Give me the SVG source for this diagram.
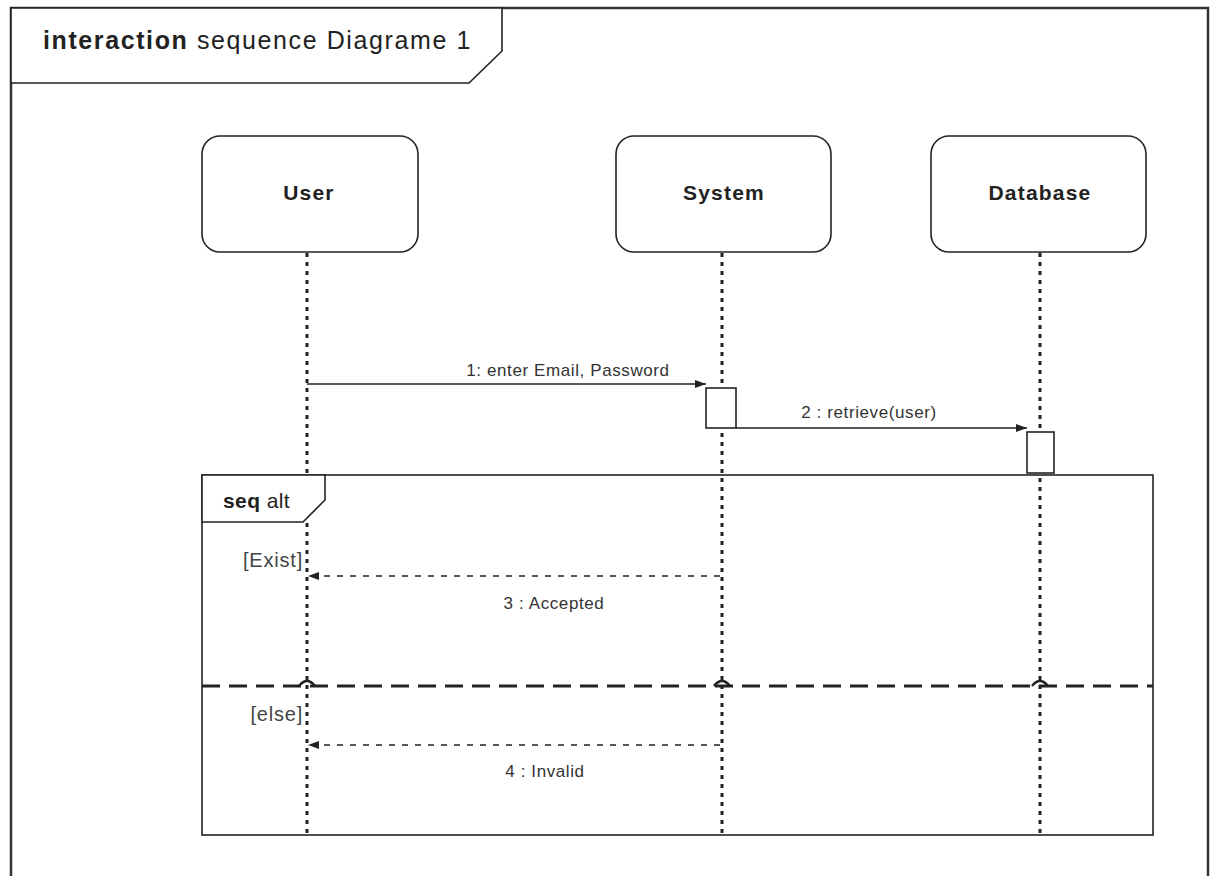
<svg xmlns="http://www.w3.org/2000/svg" width="1213" height="876" viewBox="0 0 1213 876">
  <style>
    .frame { fill: none; stroke: #333; stroke-width: 2.5; }
    .box { fill: #fff; stroke: #222; stroke-width: 1.6; }
    .lifeline { stroke: #222; stroke-width: 3; stroke-dasharray: 4 5; fill: none; }
    .msg { stroke: #222; stroke-width: 1.5; fill: none; }
    .reply { stroke: #222; stroke-width: 1.5; stroke-dasharray: 6 7; fill: none; }
    .sep { stroke: #222; stroke-width: 3; stroke-dasharray: 18 9; fill: none; }
    .hop { stroke: #222; stroke-width: 2.5; fill: none; }
    .name { font-family: "Liberation Sans", Arial, sans-serif; font-size: 21px; letter-spacing: 1.2px; font-weight: bold; fill: #222; text-anchor: middle; }
    .lbl { font-family: "Liberation Sans", Arial, sans-serif; font-size: 17px; letter-spacing: 0.6px; fill: #333; text-anchor: middle; }
    .guard { font-family: "Liberation Sans", Arial, sans-serif; font-size: 20px; letter-spacing: 0.8px; fill: #444; text-anchor: end; }
    .title { font-family: "Liberation Sans", Arial, sans-serif; font-size: 25px; letter-spacing: 1.6px; fill: #222; }
    .frag { font-family: "Liberation Sans", Arial, sans-serif; font-size: 21px; letter-spacing: 0.4px; fill: #222; }
  </style>
  <defs>
    <marker id="arrow" markerWidth="12" markerHeight="10" refX="11" refY="5" orient="auto" markerUnits="userSpaceOnUse">
      <path d="M0,1 L11,5 L0,9 Z" fill="#222"/>
    </marker>
  </defs>

  <rect width="1213" height="876" fill="#fff"/>

  <!-- outer interaction frame -->
  <g id="frame">
    <polyline class="frame" points="11,876 11,8 1208,8 1208,876"/>
    <path class="box" d="M11,8 L502,8 L502,51 L469,83 L11,83 Z"/>
    <text class="title" x="43" y="49"><tspan font-weight="bold">interaction</tspan> sequence Diagrame 1</text>
  </g>

  <!-- lifelines -->
  <g id="lifelines">
    <line class="lifeline" x1="307" y1="253" x2="307" y2="836"/>
    <line class="lifeline" x1="722" y1="253" x2="722" y2="836"/>
    <line class="lifeline" x1="1040" y1="253" x2="1040" y2="836"/>
  </g>

  <!-- participants -->
  <g id="user">
    <rect class="box" x="202" y="136" width="216" height="116" rx="18"/>
    <text class="name" x="309" y="200">User</text>
  </g>
  <g id="system">
    <rect class="box" x="616" y="136" width="215" height="116" rx="18"/>
    <text class="name" x="724" y="200">System</text>
  </g>
  <g id="database">
    <rect class="box" x="931" y="136" width="215" height="116" rx="18"/>
    <text class="name" x="1040" y="200">Database</text>
  </g>

  <!-- combined fragment -->
  <g id="alt-fragment">
    <rect x="202" y="475" width="951" height="360" fill="none" stroke="#222" stroke-width="1.6"/>
    <path class="box" d="M202,475 L325,475 L325,500 L303,522 L202,522 Z"/>
    <text class="frag" x="223" y="508"><tspan font-weight="bold">seq</tspan> alt</text>
    <text class="guard" x="303" y="567">[Exist]</text>
    <text class="guard" x="303" y="721">[else]</text>
    <line class="sep" x1="202" y1="686" x2="1153" y2="686"/>
    <!-- line hops at lifeline crossings -->
    <path class="hop" d="M299,686 Q307,676 315,686"/>
    <path class="hop" d="M714,686 Q722,676 730,686"/>
    <path class="hop" d="M1032,686 Q1040,676 1048,686"/>
  </g>

  <!-- activations -->
  <g id="activation-system">
    <rect class="box" x="706" y="388" width="30" height="40"/>
  </g>
  <g id="activation-database">
    <rect class="box" x="1027" y="432" width="27" height="41"/>
  </g>

  <!-- messages -->
  <g id="connectors">
    <line class="msg" x1="307" y1="384" x2="706" y2="384" marker-end="url(#arrow)"/>
    <text class="lbl" x="568" y="376">1: enter Email, Password</text>

    <line class="msg" x1="736" y1="428" x2="1027" y2="428" marker-end="url(#arrow)"/>
    <text class="lbl" x="869" y="418">2 : retrieve(user)</text>

    <line class="reply" x1="720" y1="576" x2="308" y2="576" marker-end="url(#arrow)"/>
    <text class="lbl" x="554" y="609">3 : Accepted</text>

    <line class="reply" x1="720" y1="745" x2="308" y2="745" marker-end="url(#arrow)"/>
    <text class="lbl" x="545" y="777">4 : Invalid</text>
  </g>
</svg>
